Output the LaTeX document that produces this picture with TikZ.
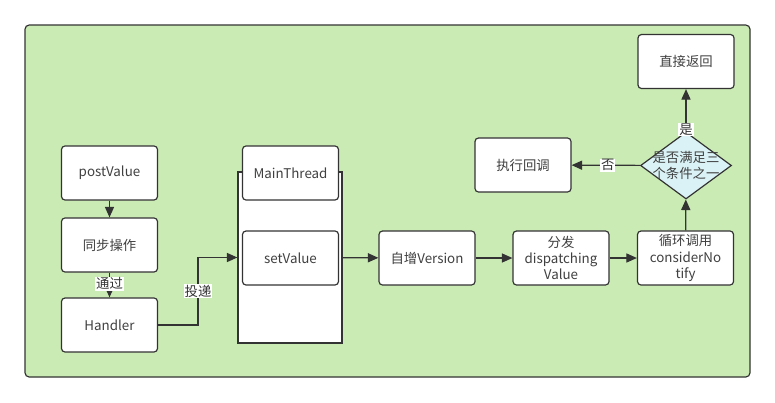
\documentclass[tikz,border=0pt]{standalone}
\usepackage{fontspec}
\setmainfont{Noto Sans CJK SC}
\usetikzlibrary{arrows.meta,shapes.geometric}
\definecolor{panelgreen}{RGB}{203,235,181}
\definecolor{diamondblue}{RGB}{218,242,245}
\definecolor{linegray}{RGB}{51,51,51}
\newcommand{\zw}[1]{\makebox[0pt]{#1}}
\tikzset{
    box/.style={draw=linegray, fill=white, rounded corners=2.5pt, line width=0.85pt,
        minimum width=2.4cm, minimum height=1.35cm, align=center, inner sep=1pt,
        font=\fontsize{9.5}{11.5}\selectfont, text=black!75},
    cond/.style={diamond, draw=linegray, fill=diamondblue, line width=0.85pt, aspect=1.36,
        minimum width=2.275cm, minimum height=1.675cm, inner sep=0pt, align=center,
        font=\fontsize{9.5}{11.5}\selectfont, text=black!75},
    tag/.style={fill=white, inner sep=0.6pt, font=\fontsize{9.5}{11}\selectfont, text=black!80},
    flow/.style={-{Triangle[length=7.5pt,width=6.5pt]}, draw=linegray, line width=0.85pt}
}
\begin{document}
\begin{tikzpicture}[x=0.025cm, y=-0.025cm]
            \useasboundingbox (0,0) rectangle (775,402);
            % panel
            \draw[draw=linegray, fill=panelgreen, line width=0.85pt, rounded corners=3pt] (25,25) rectangle (750,377);
            % main thread lane
            \node[draw=linegray, fill=white, line width=0.85pt, minimum width=2.6cm, minimum height=4.275cm, inner sep=0pt](thread) at (290,257.5) {};
            \node[box](mt) at (290.5,173) {MainThread};
            \node[box](sv) at (290.5,258) {setValue};
            % left column
            \node[box](pv) at (109.5,173) {postValue};
            \node[box](sync) at (109.5,245) {同步操作};
            \node[box](hd) at (109.5,325) {Handler};
            % main row
            \node[box](inc) at (427,258) {自增Version};
            \node[box](disp) at (561,258) {分发\\dispatching\\Value};
            \node[box](loop) at (685.5,258) {循环调用\\considerNo\\tify};
            % decision
            \node[cond](chk) at (686,165.5) {\zw{是否满足三}\\\zw{个条件之一}};
            \node[box](ret) at (686,61.5) {直接返回};
            \node[box](cb) at (523,165) {执行回调};
            \coordinate (bend) at (198,325);
            \path
                (pv) edge [flow] (sync)
                (sync) edge [flow] node [tag, pos=0.45] {通过} (hd)
                (thread) edge [flow] (inc)
                (inc) edge [flow] (disp)
                (disp) edge [flow] (loop)
                (loop) edge [flow] (chk)
                (chk) edge [flow] node [tag, pos=0.05] {是} (ret)
                      edge [flow] node [tag, pos=0.47] {否} (cb)
                ;
            \draw[flow] (hd) -- (bend) |- node [tag, pos=0.25] {投递} (thread.west);
        \end{tikzpicture}
\end{document}
